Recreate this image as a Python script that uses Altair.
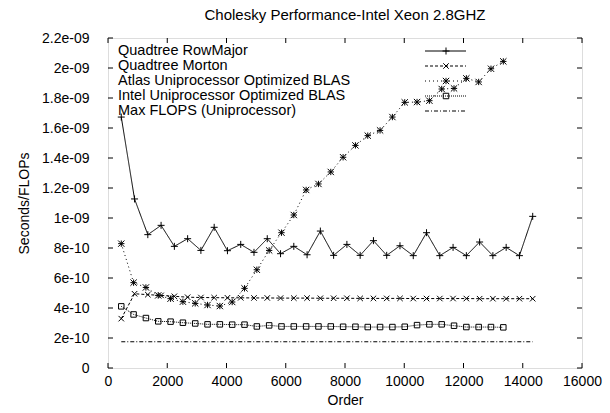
import altair as alt
import pandas as pd

FONT = "Liberation Sans"

# Matrix orders of the quadtree runs (also the span of the max-FLOPS line)
quad_order = [448, 896, 1344, 1792, 2240, 2688, 3136, 3584, 4032, 4480, 4928,
              5376, 5824, 6272, 6720, 7168, 7616, 8064, 8512, 8960, 9408, 9856,
              10304, 10752, 11200, 11648, 12096, 12544, 12992, 13440, 13888, 14336]
# Matrix orders of the BLAS runs
blas_order = [448, 864, 1280, 1696, 2112, 2528, 2944, 3360, 3776, 4192, 4608,
              5024, 5440, 5856, 6272, 6688, 7104, 7520, 7936, 8352, 8768, 9184,
              9600, 10016, 10432, 10848, 11264, 11680, 12096, 12512, 12928, 13344]

# Seconds per floating point operation
rowmajor = [16.73e-10, 11.27e-10, 8.89e-10, 9.51e-10, 8.11e-10, 8.62e-10, 7.84e-10,
            9.38e-10, 7.82e-10, 8.24e-10, 7.71e-10, 8.62e-10, 7.62e-10, 8.11e-10,
            7.55e-10, 9.13e-10, 7.51e-10, 8.24e-10, 7.51e-10, 8.49e-10, 7.51e-10,
            8.15e-10, 7.49e-10, 9.02e-10, 7.49e-10, 8.04e-10, 7.49e-10, 8.40e-10,
            7.49e-10, 8.04e-10, 7.49e-10, 10.11e-10]
morton = [3.29e-10, 4.95e-10, 4.89e-10, 4.84e-10, 4.78e-10, 4.72e-10, 4.70e-10,
          4.69e-10, 4.68e-10, 4.68e-10, 4.67e-10, 4.67e-10, 4.66e-10, 4.66e-10,
          4.66e-10, 4.65e-10, 4.65e-10, 4.65e-10, 4.64e-10, 4.64e-10, 4.64e-10,
          4.64e-10, 4.63e-10, 4.63e-10, 4.63e-10, 4.63e-10, 4.63e-10, 4.62e-10,
          4.62e-10, 4.62e-10, 4.62e-10, 4.62e-10]
atlas = [8.29e-10, 5.69e-10, 5.37e-10, 4.84e-10, 4.62e-10, 4.42e-10, 4.31e-10,
         4.20e-10, 4.13e-10, 4.40e-10, 5.31e-10, 6.55e-10, 7.84e-10, 9.02e-10,
         10.20e-10, 11.87e-10, 12.27e-10, 13.07e-10, 14.05e-10, 14.84e-10,
         15.49e-10, 15.84e-10, 16.73e-10, 17.71e-10, 17.73e-10, 17.82e-10,
         18.60e-10, 18.64e-10, 19.31e-10, 19.07e-10, 19.95e-10, 20.44e-10]
intel = [4.11e-10, 3.57e-10, 3.33e-10, 3.11e-10, 3.09e-10, 3.02e-10, 2.97e-10,
         2.91e-10, 2.91e-10, 2.89e-10, 2.89e-10, 2.77e-10, 2.84e-10, 2.77e-10,
         2.77e-10, 2.77e-10, 2.77e-10, 2.77e-10, 2.75e-10, 2.75e-10, 2.73e-10,
         2.73e-10, 2.73e-10, 2.75e-10, 2.86e-10, 2.91e-10, 2.91e-10, 2.82e-10,
         2.73e-10, 2.73e-10, 2.73e-10, 2.71e-10]
max_flops_order = [448, 14336]
max_flops = [1.75e-10, 1.75e-10]

series_names = ["Quadtree RowMajor", "Quadtree Morton",
                "Atlas Uniprocessor Optimized BLAS",
                "Intel Uniprocessor Optimized BLAS", "Max FLOPS (Uniprocessor)"]

x_ticks = [0, 2000, 4000, 6000, 8000, 10000, 12000, 14000, 16000]
y_ticks = [0, 2e-10, 4e-10, 6e-10, 8e-10, 10e-10, 12e-10, 14e-10, 16e-10,
           18e-10, 20e-10, 22e-10]
y_tick_labels = ["0", "2e-10", "4e-10", "6e-10", "8e-10", "1e-09", "1.2e-09",
                 "1.4e-09", "1.6e-09", "1.8e-09", "2e-09", "2.2e-09"]

W, H = 474, 330

# gnuplot-like point glyphs
PLUS = "M-1,0L1,0M0,-1L0,1"
CROSS = "M-1,-1L1,1M-1,1L1,-1"
STAR = PLUS + CROSS
SQUARE = "M-1,-1L1,-1L1,1L-1,1Z"

styles = [
    dict(dash=[1, 0], shape=PLUS, size=49),
    dict(dash=[3, 2], shape=CROSS, size=30),
    dict(dash=[1, 3], shape=STAR, size=40),
    dict(dash=[1, 1], shape=SQUARE, size=30),
    dict(dash=[4, 2, 1, 2], shape=None, size=0),
]
datasets = [(quad_order, rowmajor), (quad_order, morton), (blas_order, atlas),
            (blas_order, intel), (max_flops_order, max_flops)]

x_scale = alt.Scale(domain=[0, 16000], nice=False)
y_scale = alt.Scale(domain=[0, 2.2e-9], nice=False)

label_expr = "[" + ",".join("'%s'" % s for s in y_tick_labels) + "][round(datum.value / 2e-10)]"

X = alt.X("order:Q", scale=x_scale,
          axis=alt.Axis(values=x_ticks, format="d", grid=False, domain=False, ticks=False,
                        labelFont=FONT, labelFontSize=14, labelColor="black",
                        labelPadding=6, labelFlush=False,
                        title="Order", titleFont=FONT, titleFontSize=14,
                        titleFontWeight="normal", titleColor="black", titlePadding=5))
Y = alt.Y("sec:Q", scale=y_scale,
          axis=alt.Axis(values=y_ticks, grid=False, domain=False, ticks=False,
                        labelExpr=label_expr, labelFont=FONT, labelFontSize=14,
                        labelColor="black", labelPadding=19, labelFlush=False,
                        title="Seconds/FLOPs", titleFont=FONT, titleFontSize=14,
                        titleFontWeight="normal", titleColor="black", titlePadding=10))

layers = []
for (xs, ys), st in zip(datasets, styles):
    df = pd.DataFrame({"order": xs, "sec": ys})
    base = alt.Chart(df).encode(x=X, y=Y)
    layers.append(base.mark_line(color="black", strokeWidth=1, strokeDash=st["dash"]))
    if st["shape"]:
        layers.append(base.mark_point(shape=st["shape"], size=st["size"], filled=False,
                                      color="black", strokeWidth=1, opacity=1))

# inward tick marks on all four sides of the frame
xt = pd.DataFrame({"order": x_ticks})
yt = pd.DataFrame({"sec": y_ticks})
TL = 5
layers.append(alt.Chart(xt).mark_rule(color="black").encode(x=X, y=alt.value(H), y2=alt.value(H - TL)))
layers.append(alt.Chart(xt).mark_rule(color="black").encode(x=X, y=alt.value(0), y2=alt.value(TL)))
layers.append(alt.Chart(yt).mark_rule(color="black").encode(y=Y, x=alt.value(0), x2=alt.value(TL)))
layers.append(alt.Chart(yt).mark_rule(color="black").encode(y=Y, x=alt.value(W), x2=alt.value(W - TL)))

# key in the upper left: label text, then a line sample with its glyph
for i, (name, st) in enumerate(zip(series_names, styles)):
    row = pd.DataFrame({"label": [name], "ly": [13 + 15 * i]})
    ly = alt.Y("ly:Q", scale=None)
    layers.append(alt.Chart(row).mark_text(align="left", baseline="middle", font=FONT,
                                           fontSize=14.5, color="black")
                  .encode(text="label:N", x=alt.value(10), y=ly))
    layers.append(alt.Chart(row).mark_rule(color="black", strokeWidth=1, strokeDash=st["dash"])
                  .encode(x=alt.value(317), x2=alt.value(358), y=ly))
    if st["shape"]:
        layers.append(alt.Chart(row).mark_point(shape=st["shape"], size=st["size"], filled=False,
                                                color="black", strokeWidth=1, opacity=1)
                      .encode(x=alt.value(338), y=ly))

chart = alt.layer(*layers).properties(
    width=W, height=H,
    title=alt.TitleParams("Cholesky Performance-Intel Xeon 2.8GHZ", font=FONT, fontSize=15,
                          fontWeight="normal", color="black", anchor="middle", offset=8),
    autosize=alt.AutoSizeParams(type="none"),
    padding={"left": 108, "top": 38, "right": 28, "bottom": 45},
).configure_view(stroke="black", strokeWidth=1).configure(background="white")

chart.save("out.html", embed_options={"renderer": "svg", "actions": False})
